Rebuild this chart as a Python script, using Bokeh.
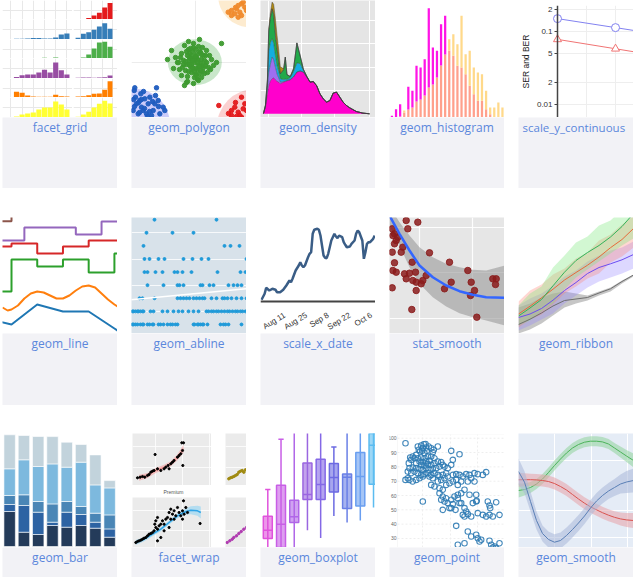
import numpy as np
from datetime import datetime

from bokeh.core.properties import value
from bokeh.embed import file_html
from bokeh.layouts import column, row
from bokeh.models import BoxAnnotation, ColumnDataSource, FixedTicker, Range1d, Slope, Spacer
from bokeh.plotting import figure
from bokeh.resources import INLINE

# ------------------------------------------------------------------ data
CAPTIONS = [
    ["facet_grid", "geom_polygon", "geom_density", "geom_histogram", "scale_y_continuous"],
    ["geom_line", "geom_abline", "scale_x_date", "stat_smooth", "geom_ribbon"],
    ["geom_bar", "facet_wrap", "geom_boxplot", "geom_point", "geom_smooth"],
]

# facet_grid: six rows of histograms, two facet columns each
FACET_COLORS = ["#e41a1c", "#377eb8", "#4daf4a", "#984ea3", "#ff7f00", "#ffff33"]
FACET_LEFT_BINS = [2, 3, 4, 5, 6, 7, 8, 9, 10, 11]
FACET_RIGHT_BINS = [0, 1, 2, 3, 4, 5, 6]
FACET_LEFT = [
    [0, 0, 0, 0, 0, 0, 0, 0, 0, 0],
    [0.7, 0.7, 1, 1.5, 1.5, 1, 1, 2, 5, 6],
    [0.3, 0.3, 0.3, 0.5, 0.5, 0.8, 0.5, 1, 0.5, 0.5],
    [1.5, 3.3, 4, 4, 6, 8.7, 6, 16, 8.3, 4],
    [5.7, 4.7, 2, 1, 0.7, 0.7, 0.7, 2.7, 1.3, 1],
    [1, 3, 4, 5, 8, 10, 10, 16, 13, 8],
]
FACET_RIGHT = [
    [0, 0.5, 1.5, 4, 6.7, 12, 16.5],
    [1.7, 5.7, 7.3, 9.7, 13, 16.3, 10.7],
    [0.5, 1, 4, 10, 16, 16.7, 11.7],
    [0.7, 1, 1, 0.7, 1, 1.3, 3],
    [1, 1.3, 2.3, 3.7, 4, 7.7, 16.3],
    [0.7, 3, 5.7, 10, 13.7, 16.7, 14],
]

# geom_polygon: four clusters with their hull discs
POLY_GREEN = [(63, 55), (58, 60), (67, 52), (61, 48), (70, 58), (55, 53), (65, 63), (72, 50), (60, 45),
              (68, 66), (52, 57), (75, 55), (57, 68), (64, 43), (71, 46), (49, 60), (62, 70), (66, 58),
              (59, 51), (74, 62), (54, 47), (69, 54), (63, 40), (77, 50), (50, 64), (56, 41), (61, 66),
              (73, 44), (67, 71), (58, 57), (46, 55), (80, 58), (64, 49), (53, 72), (70, 40), (60, 62),
              (66, 38), (57, 46), (75, 67), (62, 74), (48, 48), (71, 52), (65, 60), (55, 35), (68, 44),
              (59, 69), (78, 62), (52, 53), (63, 58), (69, 65), (61, 50), (56, 36), (73, 57), (66, 48),
              (44, 60), (82, 52), (58, 64), (64, 68), (50, 42), (76, 45), (67, 37), (60, 53), (54, 56),
              (71, 70), (63, 46), (57, 76), (79, 48), (47, 55), (65, 42), (68, 51), (90, 74), (53, 32),
              (68, 78), (40, 67), (36, 58), (42, 49), (85, 55), (62, 34), (59, 59), (72, 62), (56, 62),
              (66, 55), (61, 57), (69, 47), (74, 52), (58, 53), (64, 61), (51, 50), (55, 66), (70, 63)]
POLY_BLUE = [(3.3, 29.7), (2.7, 27), (25, 29.7), (8.3, 17), (13.3, 18.7), (18.3, 20.3), (31.7, 10.3),
             (33.3, 7), (5, 13.7), (10, 10.3), (16.7, 13.7), (21.7, 7), (26.7, 17), (6.7, 3.7), (15, 3.7),
             (1.7, 7), (11.7, 7), (20, 2), (23.3, 13.7), (28.3, 3.7), (4, 20.3), (9.3, 23.7), (13, 9),
             (18, 6), (7, 15), (2, 18), (24, 22), (12, 26), (3, 11), (8, 5), (16, 1), (27, 11), (21, 16),
             (10, 18)]
POLY_RED = [(87.3, 12), (110, 20.3), (100, 7), (106.7, 5.3), (108.3, 2), (103.3, 10.3), (113.3, 13.7),
            (111.7, 8.7), (115, 7), (105, 1), (100, 2), (110, 0.3), (97, 4), (104, 15)]
POLY_ORANGE = [(96.7, 105.3), (100, 102), (105, 108.7), (106.7, 112), (110, 113.7), (108.3, 105.3),
               (111.7, 115.3), (103.3, 103.7), (113.3, 110.3), (100, 107), (106.7, 100.3), (115, 107),
               (110, 102), (104, 110)]
POLY_HULL_X = [63.3, 3.3, 123.3, 118.3]
POLY_HULL_Y = [55.3, -6.3, -9.7, 122]
POLY_HULL_W = [54, 70, 76, 63.4]
POLY_HULL_H = [46, 70, 76, 63.4]

# geom_density: stacked densities
DENS_X = [3, 5, 7, 8.3, 10, 11.7, 13.3, 15, 16.7, 18.3, 20, 23.3, 25, 26.7, 30, 33.3, 36.7, 40, 43.3,
          46.7, 50, 53.3, 56.7, 60, 63.3, 66.7, 70, 73.3, 76.7, 80, 83.3, 86.7, 90, 96.7, 103.3, 110]
DENS_LAYERS = {
    "Ideal": [0.3, 6.7, 21, 28, 33, 35, 36, 34, 32.5, 31.7, 30, 31.7, 32.3, 33, 34, 36.7, 41.7, 42.7,
              41.7, 36.7, 31.7, 32.3, 28, 20, 15, 11.7, 13.3, 20.7, 21.7, 16.7, 11.7, 8.3, 6, 2.3, 0.7, 0],
    "Premium": [0, 1, 5, 13.3, 16.7, 21.7, 18, 12.7, 7.3, 4.3, 1.7, 0.5, 0.4, 0.3, 0.3, 0.3, 0.2, 0.2,
                0.1, 0, 0, 0, 0, 0, 0, 0, 0, 0, 0, 0, 0, 0, 0, 0, 0, 0],
    "Very Good": [0, 0.5, 5, 21.7, 21.7, 18.3, 16.7, 11.7, 8.3, 6.7, 3.3, 2, 2, 1, 2, 5, 9, 7.3, 1.7,
                  0.5, 0, 0, 0, 0, 0, 0, 0, 0, 0, 0, 0, 0, 0, 0, 0, 0],
    "Good": [0, 0.5, 3, 20, 25, 30, 28.3, 20, 16.7, 10, 5, 10, 22, 5, 1, 3, 20, 8, 1, 0.3, 0, 0, 0, 0,
             0, 0, 0, 0, 0, 0, 0, 0, 0, 0, 0, 0],
    "Fair": [0, 0, 0, 0, 0, 0, 0.5, 3, 0.5, 0, 0, 0, 0, 0, 0, 0, 0, 0, 0, 0, 0, 0, 0, 0, 0, 0, 0, 0, 0,
             0, 0, 0, 0, 0, 0, 0],
    "Other": [0, 0, 0.5, 2, 5, 6.7, 10, 14, 13, 12, 7, 1, 0, 0, 0, 0, 0, 0, 0, 0, 0, 0, 0, 0, 0, 0, 0,
              0, 0, 0, 0, 0, 0, 0, 0, 0],
}
DENS_COLORS = ["#ff00cc", "#9d6ff0", "#14aee0", "#22a94a", "#e0556a", "#b08a14"]

# geom_histogram: two overlaid histograms
HIST_BINS = list(range(28))
HIST_A = [1.7, 8.3, 13.3, 5, 30.7, 26.7, 51.7, 50, 58.3, 109.3, 70, 66.7, 93.3, 101.7, 66.7, 61.7,
          51.7, 50, 43.3, 31.7, 23.3, 16.7, 16.7, 8.3, 3.3, 0, 0, 0]
HIST_B = [0, 0, 1, 7, 8, 10, 16, 18, 22, 30, 33, 40, 52, 63, 78.3, 83.3, 73.3, 101.7, 63.3, 66.7, 50,
          45, 43.3, 26.7, 10, 10, 15, 10]

# scale_y_continuous: error rates on a log axis
SER_X = [0, 2, 4]
SER = [0.15, 0.113, 0.085]
BER = [0.078, 0.058, 0.043]
SER_TICKS = [0.2, 0.1, 0.05, 0.02, 0.01]
SER_TICK_LABELS = ["2", "0.1", "5", "2", "0.01"]

# geom_line
LINE_X = [-1, 0, 1, 2, 3, 4, 5]
LINE_BROWN = [112.3, 118, 118, 118, 118, 118, 118]
LINE_PURPLE = [93, 93, 106, 106, 99, 112, 112]
LINE_RED = [87, 90, 80, 87, 93, 93, 93]
LINE_GREEN = [42, 74, 67, 74, 61, 80, 80]
LINE_BLUE = [15, 9, 29, 22, 22, 5, -12]
ORANGE_X = [-0.35, -0.15, 0, 0.25, 0.5, 0.75, 1, 1.25, 1.5, 1.75, 2, 2.25, 2.5, 2.75, 3, 3.25, 3.5,
            3.75, 4, 4.12]
ORANGE_Y = [26, 23, 24, 28, 35, 40, 42, 41, 38, 35, 35, 38, 43, 47, 48, 46, 40, 34, 29, 27]

# geom_abline: points on discrete levels 1..9
ABLINE_ROWS = [
    [1, 2, 4, 6, 9, 11, 12, 16, 18, 21, 22, 27, 29, 32, 36, 39, 41, 44, 46, 62, 63, 66, 67, 69, 71, 72,
     76, 89, 92, 94, 97, 110],
    [1, 2, 4, 6, 7, 9, 11, 12, 19, 22, 31, 36, 42, 47, 51, 57, 62, 67, 75, 77, 80, 82, 85, 87, 90, 93,
     96, 98, 101, 104, 106, 109, 111, 114],
    [8, 11, 23, 46, 49, 52, 55, 58, 62, 65, 68, 71, 73, 80, 85, 91, 93, 96, 100, 105, 110, 115],
    [16, 32, 46, 48, 52, 69, 71, 78, 82, 97, 102, 106, 110],
    [13, 16, 24, 31, 43, 46, 51, 60, 86, 109, 114],
    [13, 18, 27, 33, 52, 61, 70, 77, 115],
    [12, 93, 99, 108],
    [15, 41, 62],
    [23, 85],
]
ABLINE_INTERCEPT = 2.9
ABLINE_SLOPE = 0.0073

# scale_x_date
DATE_START = datetime(2013, 7, 27)
DATE_OFFSETS = [0, 2, 3, 5, 7, 9, 10, 12, 14, 16, 18, 19, 20, 22, 24, 25, 26, 27, 28, 30, 31, 32, 33,
                34, 36, 37, 38, 39, 40, 41, 42, 43, 44, 45, 47, 48, 49, 50, 52, 53, 54, 55, 57, 58, 60,
                61, 62, 63, 65, 66, 67, 68, 69, 70, 72, 73]
DATE_VALUES = [1.7, 7.7, 13.7, 11, 12.7, 11.7, 9.3, 9.3, 11.7, 16, 21, 19.3, 22.7, 31, 36, 39.3, 36,
               34.3, 36, 44.3, 47.7, 49.3, 67.7, 71.7, 72.7, 71.7, 66, 56, 46, 43.7, 43.3, 47.7, 54.3,
               61, 67.7, 65, 63.3, 66, 64.3, 59.3, 56.7, 54.3, 55, 57.7, 61, 67.7, 71, 69.3, 61, 42.7,
               49.3, 57.7, 59.3, 59.3, 62.7, 66]
DATE_TICKS = ["2013-08-11", "2013-08-25", "2013-09-08", "2013-09-22", "2013-10-06"]
DATE_TICK_LABELS = ["Aug 11", "Aug 25", "Sep 8", "Sep 22", "Oct 6"]

# stat_smooth
SMOOTH_X = [0, 10, 20, 30, 43.3, 56.7, 70, 83.3, 96.7, 115]
SMOOTH_FIT = [118, 99.7, 83, 68, 56.3, 48, 42.3, 38.7, 36.3, 35.7]
SMOOTH_LO = [108, 88, 66.3, 49.7, 36.3, 27, 20.3, 16.3, 13, 8]
SMOOTH_HI = [127, 111.3, 98, 86.3, 76.3, 69.7, 66.3, 63.7, 63, 68]
SMOOTH_PTS = [(28.3, 111.3), (18.3, 104.7), (2.7, 104.7), (5, 99.7), (6.7, 93), (3.3, 98), (13.3, 86.3),
              (11.7, 81.3), (40, 80.7), (2.7, 81.3), (60, 71.3), (5, 70.7), (22.7, 71.3), (3.3, 63),
              (6.7, 61.3), (15, 59.7), (20, 60.3), (26, 61.3), (16.7, 54.7), (23.3, 53), (26.7, 51.3),
              (33.3, 53), (36.7, 58), (31.7, 49.7), (26.7, 43), (2.7, 45.7), (78.3, 63), (61.7, 51.3),
              (81.7, 51.3), (55, 44.7), (85, 43), (81, 38), (103.3, 54.7), (106.7, 54.7), (106, 49),
              (22.3, 24), (87.3, 16.3), (8.3, 96.3), (5, 89.7), (16.7, 113)]

# geom_ribbon
RIB_X = [0, 11.5, 23, 34.5, 46, 57.5, 69, 80.5, 92, 103.5, 115]
RIB_GREEN = [17.5, 25.5, 34, 47.7, 61.3, 73, 81, 88, 96.5, 107, 120]
RIB_GREEN_LO = [8, 13, 22, 30, 44, 56, 64, 72, 80, 88, 95]
RIB_GREEN_HI = [28, 40, 47, 66, 78, 91, 97, 108, 113, 124, 128]
RIB_ORANGE = [19.5, 27.3, 35.7, 44.3, 53.5, 61, 68.3, 76.5, 85.8, 94, 105]
RIB_ORANGE_LO = [6, 14, 19, 29, 40, 47, 55, 60, 71, 77, 86]
RIB_ORANGE_HI = [32, 43, 49, 59, 65, 75, 81, 93, 99, 109, 118]
RIB_PURPLE = [16, 19.5, 25, 33.3, 43, 51, 60, 66, 69.7, 73.7, 79]
RIB_PURPLE_LO = [3, 8, 14, 20, 30, 38, 46, 52, 56, 60, 65]
RIB_PURPLE_HI = [28, 35, 40, 48, 57, 63, 72, 78, 83, 86, 92]
RIB_GRAY = [9, 14.3, 20.5, 27.5, 33, 34.5, 36, 40.5, 44.7, 52, 58.5]
RIB_GRAY_LO = [0, 4, 10, 18, 26, 30, 33, 38, 42, 50, 57]
RIB_GRAY_HI = [26, 30, 36, 40, 42, 40, 38, 42, 46, 53, 59]

# geom_bar: stacked counts
BAR_X = [1, 2, 3, 4, 5, 6, 7, 8]
BAR_LAYERS = {
    "I1": [35, 14.3, 12, 21, 19.3, 21, 18.3, 9.3],
    "SI2": [7, 26.7, 22.3, 3.3, 15, 11, 6, 8.3],
    "SI1": [9, 10.7, 10.7, 18.3, 10.7, 8, 9, 14],
    "VS2": [26.7, 35, 35, 40, 34.3, 44.3, 28.3, 27],
    "VS1": [34, 24.3, 30, 27.3, 25, 17.7, 30, 7.3],
}
BAR_COLORS = ["#243b5a", "#2d63a3", "#4a86b6", "#7db9de", "#c2d3dc"]

# facet_wrap: four panels
FW_A_X = [6.6, 15, 23.3, 31.6, 38.3, 45, 51]
FW_A_FIT = [7.7, 10, 15, 18.3, 21.7, 28.3, 36.7]
FW_A_SE = [3, 2.5, 2.5, 2.5, 2.5, 3, 4]
FW_A_PTS = [(5, 7.7), (7.6, 8.3), (10, 9), (12.3, 8.3), (15, 10), (16.6, 11), (18.3, 13.3), (20, 14.3),
            (21.6, 15), (22.6, 31), (25, 16.7), (28.3, 15), (31.6, 16.7), (33.3, 18.3), (35.6, 20),
            (36.6, 16.7), (38.3, 21.7), (40, 23.3), (41.6, 25), (45, 28.3), (46.6, 30), (48.3, 31.7),
            (50, 35), (51, 42.7), (49.3, 42.7), (50.3, 20)]
FW_C_X = [3.3, 11.6, 20, 28.3, 36.6, 45, 53.3, 58.3, 65, 68.3]
FW_C_FIT = [5, 8.3, 13.3, 18.3, 25, 31.7, 36, 37.3, 36.7, 35]
FW_C_SE = [2.5, 2, 2, 2, 2, 2.5, 3, 4, 5, 6]
FW_C_PTS = [(3.3, 5), (5, 6), (6.6, 6.7), (8.3, 7.3), (10, 8.3), (11.6, 9.3), (13.3, 10), (15, 11.7),
            (16.6, 13.3), (18.3, 14), (20, 15), (21.6, 16.7), (22.3, 23.3), (23.3, 20), (23.3, 26.7),
            (25, 18.3), (25, 30), (26.6, 21.7), (28.3, 23.3), (30, 26.7), (31.6, 16.7), (33.3, 28.3),
            (35, 30), (36.6, 35), (38.3, 38.3), (40, 33.3), (41.6, 36.7), (43.3, 31.7), (45, 40),
            (46.6, 35), (48.3, 31.7), (50, 36.7), (51, 46.7), (51.6, 33.3), (53.3, 40), (55, 35),
            (50, 28.3), (67.6, 24), (41.6, 28.3), (38.3, 28.3), (36.6, 20), (31.6, 23.3), (25, 6.7),
            (28.3, 10)]
FW_B_PTS = [(3.3, 6.7), (5, 7.7), (6.7, 8.3), (8.3, 9), (10, 10), (11.7, 11), (13.3, 13.3), (15, 14.3),
            (16.7, 15), (18.3, 13.3), (20, 15.7)]
FW_D_PTS = [(1.7, 5), (4.3, 6.7), (6.7, 8.3), (8.3, 10), (11, 11.7), (13.3, 14), (15.7, 16),
            (18.3, 18.3), (21, 20)]

# geom_boxplot
BOX_POS = [1, 2, 3, 4, 5, 6, 7, 8, 9]
BOX_LOW = [-10, -20, -10, 17.3, 9.6, 31.6, 25, 27, 40]
BOX_Q1 = [9, -5, 25, 48, 48, 55.6, 39, 41.6, 63.3]
BOX_MED = [17.3, 23.3, 30.7, 53, 63, 70, 70.3, 71, 102.3]
BOX_Q3 = [31.3, 62.3, 47.3, 84.6, 88.3, 84, 73.6, 95, 122]
BOX_HIGH = [58, 108.3, 125, 125, 125, 100.6, 125, 125, 125]
BOX_COLORS = ["#e052dc", "#c85ee6", "#b066e8", "#9a66e0", "#8468e6", "#6c6ae2", "#6a80e6", "#699ef0",
              "#5cbcf0"]

# geom_point
POINT_XY = [(16, 96.5), (28.3, 94.2), (31.7, 94.9), (34.3, 95.8), (36, 96), (33.3, 93), (36.7, 93.5),
            (39.3, 94.2), (41.7, 93), (44.3, 91.9), (48.3, 94.2), (37.3, 91.2), (43.3, 90.2), (29.3, 91.9),
            (30.7, 90.7), (32.7, 91.2), (35, 89.5), (26.7, 88.4), (23.3, 87.2), (20.7, 86.5), (21.7, 84.9),
            (19.3, 82.6), (25, 86), (28.3, 86), (31.7, 86.5), (35, 86), (38.3, 87.2), (41.7, 87.2),
            (45, 86), (30, 83.7), (33.3, 83.3), (36.7, 83.7), (40, 84.2), (26.7, 82.6), (31.7, 81.4),
            (35, 80.9), (38.3, 81.9), (41.7, 81.4), (45, 82.6), (48.3, 83.7), (51.7, 83.3), (53.3, 81.4),
            (50, 80.2), (46.7, 79.1), (43.3, 78.6), (40, 77.9), (36.7, 79.1), (33.3, 77.9), (30, 78.6),
            (26.7, 79.1), (23.3, 79.5), (20, 79.1), (18.3, 76.7), (21.7, 75.6), (25, 76.7), (28.3, 75.6),
            (31.7, 74.4), (35, 74.9), (38.3, 75.6), (41.7, 74.4), (45, 75.6), (48.3, 74.4), (18.3, 72.1),
            (20, 70.9), (16, 70.9), (23.3, 69.8), (26.7, 70.9), (30, 72.1), (33.3, 73.3), (40, 73.3),
            (43.3, 72.1), (50, 73.3), (53.3, 74.4), (56.7, 75.6), (55, 80.2), (58.3, 79.1), (61.7, 81.4),
            (61.7, 91.2), (70, 88.8), (63.3, 84.9), (41.7, 67.4), (45, 66.3), (48.3, 69.8), (51.7, 70.9),
            (55, 72.1), (58.3, 73.3), (63.3, 74.4), (66.7, 74.9), (70, 74.4), (73.3, 73.3), (76.7, 74.9),
            (80, 74.4), (85, 75.6), (88.3, 74.9), (93.3, 74.4), (96.7, 76.3), (78.3, 69.8), (81.7, 72.1),
            (85, 69.8), (50, 65.1), (53.3, 64), (56.7, 67.4), (60, 68.6), (63.3, 69.8), (66.7, 70.9),
            (68.3, 67.4), (71.7, 69.8), (75, 64), (50, 61.6), (53.3, 59.3), (56.7, 58.1), (51.7, 57),
            (55, 55.8), (58.3, 54.7), (61.7, 57), (65, 59.3), (68.3, 60.5), (71.7, 61.6), (60, 51.2),
            (63.3, 54), (33.3, 55.8), (53.3, 50), (68.3, 58.1), (70, 54.7), (86.7, 60.5), (71.7, 54.7),
            (75, 51.2), (76.7, 48.8), (86.7, 55.8), (87.3, 56.3), (88.3, 47.7), (98.3, 55.8), (100, 53),
            (100.7, 51.2), (106.7, 55.3), (93.3, 46.5), (96.7, 45.3), (100, 46.5), (103.3, 45.3),
            (110, 46.5), (73.3, 46.5), (75, 45.3), (78.3, 47), (81.7, 45.3), (66.7, 38.8), (78.3, 34.9),
            (81.7, 31.4), (86.7, 32.6), (88.3, 30.2), (91.7, 29.1), (90, 27.9), (100, 28.4), (101.7, 25.6),
            (105, 24.4), (106.7, 23.3), (103.3, 23.7), (110, 26.7), (68.3, 25.6), (75, 26.7), (80, 60.5),
            (83.3, 54.7), (61.7, 51.2), (66, 50)]
POINT_TICKS = [30, 40, 50, 60, 70, 80, 90, 100]

# geom_smooth: three fitted curves with standard-error bands
GS_X = [0, 6, 12, 18, 24, 30, 36, 42, 48, 54, 60, 66, 72, 78, 84, 90, 96, 102, 108, 115]
GS_GREEN = [57, 58, 60, 63.5, 68.5, 75, 82, 88.5, 94.5, 99.5, 103, 105.3, 106.3, 106.3, 105.6, 103.5,
            99.5, 95.5, 91.5, 87]
GS_GREEN_SE = [7, 6, 5.5, 5, 5, 5, 5, 5, 5, 5, 5, 5, 5, 5, 5, 5, 5, 5.5, 6, 7]
GS_RED = [67.7, 67.8, 67.8, 67.6, 67, 66, 64, 61, 57.5, 53, 48.5, 44.3, 40.7, 37.7, 34.8, 32.3, 30.2,
          28.6, 27.6, 27]
GS_RED_SE = [7, 6.5, 6, 6, 6, 6, 6, 6, 6, 6, 6, 6, 6, 6, 6, 6, 6, 6.5, 7, 7.5]
GS_BLUE = [76, 65.3, 46, 27, 14, 8, 5.3, 7, 12, 18, 24.5, 31.5, 39.5, 46.5, 52, 56.5, 60, 63.5, 65.5, 67]
GS_BLUE_SE = [13, 11, 10, 9, 8, 8, 8, 8, 8, 8, 8, 8, 8, 8, 8, 8, 8.5, 9.5, 11, 12]

# ------------------------------------------------------------------ helpers
FONT = "Open Sans"
CAPTION_BG = "#f2f2f6"
CAPTION_FG = "#5b87dc"


def panel(w, h, xr, yr, bg="white", **kw):
    opts = dict(width=w, height=h, x_range=xr, y_range=yr, title=None,
                toolbar_location=None, output_backend="svg", min_border=0,
                x_axis_location=None, y_axis_location=None,
                outline_line_color=None, background_fill_color=bg,
                border_fill_color=bg)
    opts.update(kw)
    p = figure(**opts)
    p.xgrid.visible = False
    p.ygrid.visible = False
    return p


def add_grid(p, xs=(), ys=(), color="white", width=1.0, alpha=1.0, dash="solid"):
    for g, ticks in ((p.xgrid, xs), (p.ygrid, ys)):
        if len(ticks):
            g.visible = True
            g.ticker = FixedTicker(ticks=list(ticks))
            g.grid_line_color = color
            g.grid_line_width = width
            g.grid_line_alpha = alpha
            g.grid_line_dash = dash


def unzip(pts):
    return [a for a, _ in pts], [b for _, b in pts]


def caption(text, h):
    # long names fill the whole tile width, starting at the left padding
    p = panel(115, h, Range1d(0, 115), Range1d(0, h), bg=CAPTION_BG)
    wide = len(text) > 16
    p.text(x=[4 if wide else 57.5], y=[h - 9.5], text=[text],
           text_align="left" if wide else "center", text_baseline="middle",
           text_font=value(FONT), text_font_size="11.5px" if wide else "12px",
           text_color=CAPTION_FG)
    return p


# ------------------------------------------------------------------ tiles
def facet_grid_tile():
    rows_ = []
    for color, left, right, h in zip(FACET_COLORS, FACET_LEFT, FACET_RIGHT, [19, 20, 19, 20, 19, 20]):
        pl = panel(70, h, Range1d(-0.5, 12), Range1d(0, h))
        add_grid(pl, xs=[1, 3, 5, 7, 9, 11], ys=[h / 2], color="#e8e8e8")
        pl.vbar(x=FACET_LEFT_BINS, top=left, width=0.92, fill_color=color, line_color=None)
        pr = panel(44, h, Range1d(-0.85, 7.4), Range1d(0, h))
        add_grid(pr, xs=[0.5, 2.5, 4.5, 6.5], ys=[h / 2], color="#e8e8e8")
        pr.vbar(x=FACET_RIGHT_BINS, top=right, width=0.92, fill_color=color, line_color=None)
        rows_.append(row(pl, Spacer(width=1, height=h), pr))
    return column(*rows_)


def polygon_tile():
    p = panel(115, 117, Range1d(0, 115), Range1d(0, 117))
    add_grid(p, xs=[64], ys=[26, 55.3], color="#ececec")
    fills = ["#4caf50", "#5555ee", "#ee4444", "#f8b040"]
    alphas = [0.3, 0.3, 0.25, 0.25]
    p.ellipse(x=POLY_HULL_X, y=POLY_HULL_Y, width=POLY_HULL_W, height=POLY_HULL_H,
              fill_color=fills, fill_alpha=alphas, line_color=None)
    for pts, col in ((POLY_GREEN, "#3d9a2f"), (POLY_BLUE, "#1f5cbf"),
                     (POLY_RED, "#e31a1c"), (POLY_ORANGE, "#f08a2c")):
        xs, ys = unzip(pts)
        p.scatter(xs, ys, size=4.5, color=col, alpha=0.95)
    return p


def density_tile():
    p = panel(115, 117, Range1d(0, 116), Range1d(-3.7, 113.3), bg="#e5e5e5")
    add_grid(p, xs=[8.3, 41.7, 75, 110], ys=[23.3, 46.7, 70, 93], color="white", width=1)
    names = list(DENS_LAYERS)
    data = dict(x=DENS_X)
    data.update(DENS_LAYERS)
    p.varea_stack(stackers=names, x="x", color=DENS_COLORS, source=ColumnDataSource(data))
    cum = np.cumsum(np.array([DENS_LAYERS[n] for n in names]), axis=0)
    for level in cum:
        p.line(DENS_X, level, line_color="#3a3a3a", line_width=0.6, line_alpha=0.7)
    return p


def histogram_tile():
    p = panel(115, 117, Range1d(-0.6, 27.5), Range1d(0, 117))
    lo = [min(a, b) for a, b in zip(HIST_A, HIST_B)]
    hi = [max(a, b) for a, b in zip(HIST_A, HIST_B)]
    top_col = ["#ff14e6" if a >= b else "#ffd98a" for a, b in zip(HIST_A, HIST_B)]
    p.vbar(x=HIST_BINS, top=lo, width=0.55, fill_color="#ffa08c", line_color=None)
    p.vbar(x=HIST_BINS, bottom=lo, top=hi, width=0.55, fill_color=top_col, line_color=None)
    return p


def log_scale_tile():
    # frame spans the whole tile; the y axis is pinned at x = 0 inside it
    p = panel(115, 117, Range1d(-1.345, 2.62), Range1d(0.00664, 0.227), y_axis_type="log",
              y_axis_location="left", min_border_top=5)
    ax = p.yaxis[0]
    ax.fixed_location = 0
    ax.ticker = FixedTicker(ticks=SER_TICKS)
    ax.major_label_overrides = dict(zip(SER_TICKS, SER_TICK_LABELS))
    ax.axis_label = "SER and BER"
    ax.axis_label_text_font = "Liberation Sans"
    ax.axis_label_text_font_size = "8.5px"
    ax.axis_label_text_font_style = "normal"
    ax.axis_label_text_color = "#222"
    ax.axis_label_standoff = 3
    ax.major_label_text_font = "Liberation Sans"
    ax.major_label_text_font_size = "8px"
    ax.major_label_text_color = "#333"
    ax.major_label_standoff = 2
    ax.major_tick_out = 3
    ax.major_tick_in = 0
    ax.minor_tick_line_color = None
    ax.axis_line_color = "#444"
    ax.axis_line_width = 1.5
    ax.major_tick_line_color = "#444"
    add_grid(p, xs=[1, 2], color="#eeeeee")
    p.segment(x0=[0] * len(SER_TICKS), y0=SER_TICKS, x1=[3] * len(SER_TICKS), y1=SER_TICKS,
              line_color="#eeeeee", line_width=1)
    p.line(SER_X, SER, line_color="#8282f0", line_width=1)
    p.scatter(SER_X, SER, marker="circle", size=8, fill_color="white", line_color="#8282f0")
    p.line(SER_X, BER, line_color="#f07474", line_width=1)
    p.scatter(SER_X, BER, marker="triangle", size=8, fill_color="white", line_color="#f07474")
    return p


def line_tile():
    p = panel(115, 116, Range1d(-0.35, 4.12), Range1d(0, 116))
    p.step(LINE_X, LINE_BROWN, mode="after", line_color="#8c564b", line_width=2)
    p.step(LINE_X, LINE_PURPLE, mode="center", line_color="#9467bd", line_width=2)
    p.step(LINE_X, LINE_RED, mode="after", line_color="#d62728", line_width=2)
    p.step(LINE_X, LINE_GREEN, mode="after", line_color="#2ca02c", line_width=2)
    p.line(ORANGE_X, ORANGE_Y, line_color="#ff7f0e", line_width=2)
    p.line(LINE_X, LINE_BLUE, line_color="#1f77b4", line_width=2)
    return p


def abline_tile():
    p = panel(115, 116, Range1d(0, 115), Range1d(0.31, 9.17), bg="#d8e2ea")
    add_grid(p, ys=[2, 4, 6, 8], color="white", width=1, alpha=0.8)
    xs, ys = [], []
    for level, row_x in enumerate(ABLINE_ROWS, start=1):
        xs += row_x
        ys += [level] * len(row_x)
    p.add_layout(Slope(gradient=ABLINE_SLOPE, y_intercept=ABLINE_INTERCEPT,
                       line_color="white", line_width=1.5))
    p.scatter(xs, ys, size=2.9, color="#1f9ad9")
    return p


def to_ms(d):
    return (d - datetime(1970, 1, 1)).total_seconds() * 1000.0


def date_tile():
    dates = [datetime.fromordinal(DATE_START.toordinal() + off) for off in DATE_OFFSETS]
    # the frame fills the tile; the date axis is pinned at value 0 inside it
    p = panel(115, 116, Range1d(datetime(2013, 7, 26, 8), datetime(2013, 10, 8, 12)),
              Range1d(-32, 84), x_axis_type="datetime", x_axis_location="below")
    ticks = [to_ms(datetime.strptime(t, "%Y-%m-%d")) for t in DATE_TICKS]
    ax = p.xaxis[0]
    ax.fixed_location = 0
    ax.ticker = FixedTicker(ticks=ticks)
    ax.major_label_overrides = dict(zip(ticks, DATE_TICK_LABELS))
    ax.major_label_orientation = 0.55
    ax.major_label_standoff = 7
    ax.major_label_text_font = "Liberation Sans Narrow, Liberation Sans"
    ax.major_label_text_font_size = "8px"
    ax.major_label_text_color = "#333"
    ax.major_tick_line_color = None
    ax.minor_tick_line_color = None
    ax.axis_line_color = "#444"
    ax.axis_line_width = 2
    p.line(dates, DATE_VALUES, line_color="#3a5d86", line_width=2.5)
    return p


def stat_smooth_tile():
    p = panel(115, 116, Range1d(0, 115), Range1d(0, 116), bg="#e6e6e6")
    add_grid(p, xs=[30, 83.3], ys=[15, 61.3, 106.3], color="white", width=1.2, alpha=0.9)
    p.varea(x=SMOOTH_X, y1=SMOOTH_LO, y2=SMOOTH_HI, fill_color="#999999", fill_alpha=0.6)
    xs, ys = unzip(SMOOTH_PTS)
    p.scatter(xs, ys, size=6.5, color="#8b1c1c", alpha=0.85)
    p.line(SMOOTH_X, SMOOTH_FIT, line_color="#3366ff", line_width=2.5)
    return p


def ribbon_tile():
    p = panel(115, 116, Range1d(0, 115), Range1d(0, 116))
    bands = [
        (RIB_GRAY_LO, RIB_GRAY_HI, "#808080", 0.45),
        (RIB_PURPLE_LO, RIB_PURPLE_HI, "#8f7dff", 0.3),
        (RIB_ORANGE_LO, RIB_ORANGE_HI, "#ff7a6a", 0.3),
        (RIB_GREEN_LO, RIB_GREEN_HI, "#7de87d", 0.35),
    ]
    for lo, hi, col, a in bands:
        p.varea(x=RIB_X, y1=lo, y2=hi, fill_color=col, fill_alpha=a)
    for ys, col in ((RIB_GRAY, "#6e6e6e"), (RIB_PURPLE, "#6c4cf0"),
                    (RIB_ORANGE, "#e66a3a"), (RIB_GREEN, "#33b35a")):
        p.line(RIB_X, ys, line_color=col, line_width=1)
    return p


def bar_tile():
    p = panel(115, 114, Range1d(0.5, 8.55), Range1d(-1, 113))
    data = dict(x=BAR_X)
    data.update(BAR_LAYERS)
    p.vbar_stack(list(BAR_LAYERS), x="x", width=0.8, fill_color=BAR_COLORS,
                 line_color="white", line_width=0.6, source=ColumnDataSource(data))
    return p


def facet_wrap_tile():
    def sub(w, h, xmax, ymax):
        q = panel(w, h, Range1d(0, xmax), Range1d(0, ymax), bg="#ebebeb")
        add_grid(q, xs=[23.3, 50, 76.7], ys=[ymax * 0.35, ymax * 0.75], color="white", width=0.8)
        return q

    pa = sub(79, 52, 79, 52)
    lo = [f - s for f, s in zip(FW_A_FIT, FW_A_SE)]
    hi = [f + s for f, s in zip(FW_A_FIT, FW_A_SE)]
    pa.varea(x=FW_A_X, y1=lo, y2=hi, fill_color="#f7a1a1", fill_alpha=0.6)
    pa.line(FW_A_X, FW_A_FIT, line_color="#f07c7c", line_width=1)
    xs, ys = unzip(FW_A_PTS)
    pa.scatter(xs, ys, size=2.2, color="black")

    pb = sub(21, 52, 21, 52)
    xs, ys = unzip(FW_B_PTS)
    pb.line(xs, ys, line_color="#c8b44a", line_width=2, line_alpha=0.5)
    pb.scatter(xs, ys, size=2.4, color="#a08a10")

    pc = sub(79, 50, 79, 50)
    lo = [f - s for f, s in zip(FW_C_FIT, FW_C_SE)]
    hi = [f + s for f, s in zip(FW_C_FIT, FW_C_SE)]
    pc.varea(x=FW_C_X, y1=lo, y2=hi, fill_color="#8fd3f4", fill_alpha=0.6)
    pc.line(FW_C_X, FW_C_FIT, line_color="#2fa4e7", line_width=1.5)
    xs, ys = unzip(FW_C_PTS)
    pc.scatter(xs, ys, size=2.2, color="black")

    pd_ = sub(21, 50, 21, 50)
    xs, ys = unzip(FW_D_PTS)
    pd_.line(xs, ys, line_color="#d070d0", line_width=2, line_alpha=0.5)
    pd_.scatter(xs, ys, size=2.4, color="#b03cb0")

    strip = panel(115, 12, Range1d(0, 115), Range1d(0, 12))
    strip.text(x=[42], y=[6], text=["Premium"], text_align="center", text_baseline="middle",
               text_font=value("Liberation Sans"), text_font_size="5px", text_color="#555")

    top = row(Spacer(width=1, height=52), pa, Spacer(width=14, height=52), pb)
    bottom = row(Spacer(width=1, height=50), pc, Spacer(width=14, height=50), pd_)
    return column(top, strip, bottom)


def boxplot_tile():
    p = panel(115, 114, Range1d(0.447, 9.15), Range1d(0, 114))
    half, cap = 0.34, 0.2
    p.segment(x0=BOX_POS, y0=BOX_LOW, x1=BOX_POS, y1=BOX_HIGH, line_color=BOX_COLORS, line_width=1.5)
    p.segment(x0=[x - cap for x in BOX_POS], y0=BOX_HIGH, x1=[x + cap for x in BOX_POS], y1=BOX_HIGH,
              line_color=BOX_COLORS, line_width=1.5)
    p.vbar(x=BOX_POS, bottom=BOX_Q1, top=BOX_Q3, width=2 * half, fill_color=BOX_COLORS,
           fill_alpha=0.6, line_color=BOX_COLORS, line_width=1.5)
    p.segment(x0=[x - half for x in BOX_POS], y0=BOX_MED, x1=[x + half for x in BOX_POS], y1=BOX_MED,
              line_color=BOX_COLORS, line_width=1.5)
    return p


def point_tile():
    # frame spans the whole tile; the y axis is pinned at x = 8 inside it
    p = panel(115, 114, Range1d(0, 115), Range1d(23.7, 102.6), y_axis_location="left",
              min_border_top=1)
    ax = p.yaxis[0]
    ax.fixed_location = 8
    ax.ticker = FixedTicker(ticks=POINT_TICKS)
    ax.major_label_text_font = "Liberation Sans"
    ax.major_label_text_font_size = "5px"
    ax.major_label_text_color = "#666"
    ax.major_label_standoff = 1
    ax.major_tick_out = 0
    ax.major_tick_in = 0
    ax.minor_tick_out = 0
    ax.axis_line_color = None
    ax.major_tick_line_color = None
    ax.minor_tick_line_color = None
    add_grid(p, xs=[33, 61, 88], color="#eeeeee", dash="2 2")
    p.segment(x0=[8] * len(POINT_TICKS), y0=POINT_TICKS, x1=[115] * len(POINT_TICKS), y1=POINT_TICKS,
              line_color="#eeeeee", line_dash="2 2")
    p.add_layout(BoxAnnotation(left=8, fill_color=None, line_color="#e3e3e3", line_width=1))
    xs, ys = unzip(POINT_XY)
    p.scatter(xs, ys, marker="circle", size=5.5, fill_color=None, line_color="#2f7bb4",
              line_width=1.1, line_alpha=0.9)
    return p


def geom_smooth_tile():
    p = panel(115, 114, Range1d(0, 115), Range1d(0, 114), bg="#e5ecf6")
    add_grid(p, xs=[36, 72.7, 109.3], ys=[10.3, 37, 87], color="white", width=1)
    for fit, se, band, line in ((GS_GREEN, GS_GREEN_SE, "#8fd39a", "#4cb35a"),
                                (GS_RED, GS_RED_SE, "#e8a3a8", "#d9534f"),
                                (GS_BLUE, GS_BLUE_SE, "#a9b8d9", "#5a7fb5")):
        lo = [f - s for f, s in zip(fit, se)]
        hi = [f + s for f, s in zip(fit, se)]
        p.varea(x=GS_X, y1=lo, y2=hi, fill_color=band, fill_alpha=0.55)
        p.line(GS_X, fit, line_color=line, line_width=1)
    return p


# ------------------------------------------------------------------ page
def tile_row(plots, texts, plot_h, cap_h):
    kids = [Spacer(width=2, height=plot_h + cap_h)]
    for i, (plot, text) in enumerate(zip(plots, texts)):
        if i:
            kids.append(Spacer(width=14, height=plot_h + cap_h))
        kids.append(column(plot, caption(text, cap_h)))
    return row(*kids)


row1 = tile_row([facet_grid_tile(), polygon_tile(), density_tile(), histogram_tile(), log_scale_tile()],
                CAPTIONS[0], 117, 71)
row2 = tile_row([line_tile(), abline_tile(), date_tile(), stat_smooth_tile(), ribbon_tile()],
                CAPTIONS[1], 116, 72)
row3 = tile_row([bar_tile(), facet_wrap_tile(), boxplot_tile(), point_tile(), geom_smooth_tile()],
                CAPTIONS[2], 114, 30)

page = column(row1, Spacer(width=640, height=29), row2, Spacer(width=640, height=28), row3)

open("out.html", "w").write(file_html(page, INLINE))
